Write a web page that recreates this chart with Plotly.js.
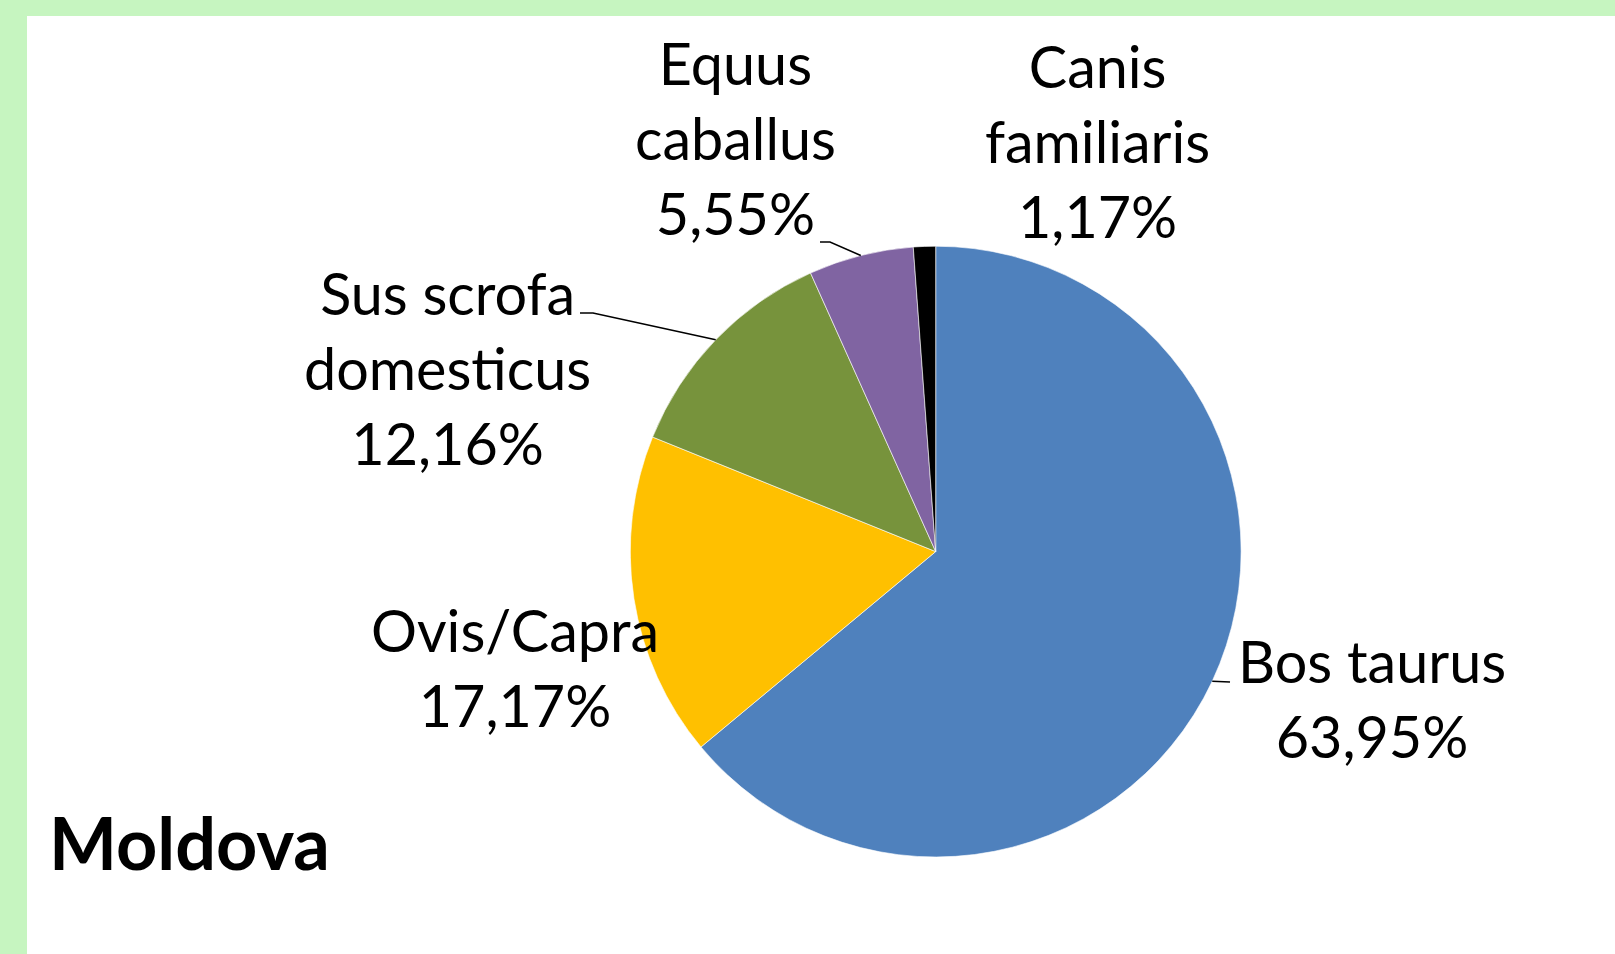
<!DOCTYPE html>
<html>
<head>
<meta charset="utf-8">
<script src="https://cdn.plot.ly/plotly-3.0.1.min.js"></script>
<style>
html,body{margin:0;padding:0;background:#ffffff;}
#chart{width:1615px;height:954px;}
</style>
</head>
<body>
<div id="chart"></div>
<script>
// ---- data ----
var categories = ["Bos taurus", "Ovis/Capra", "Sus scrofa domesticus", "Equus caballus", "Canis familiaris"];
var labelLines = ["Bos taurus", "Ovis/Capra", "Sus scrofa<br>domesticus", "Equus<br>caballus", "Canis<br>familiaris"];
var values = [63.95, 17.17, 12.16, 5.55, 1.17];
var sliceColors = ["#4F81BD", "#FFC000", "#77933C", "#8064A2", "#000000"];
var chartTitle = "Moldova";

// ---- layout geometry (pixels) ----
var W = 1615, H = 954;
var cx = 935.7, cy = 551.6, R = 305.4;
function px(x){ return x / W; }
function py(y){ return 1 - y / H; }

// label block centres and leader-line starts (pixels)
var labelPos = [
  {x: 1372, y: 698, lead: [[1230, 682]]},
  {x: 515, y: 667, lead: null},
  {x: 447, y: 367, lead: [[580, 313], [593, 313]]},
  {x: 735, y: 138, lead: [[820, 242], [830, 242]]},
  {x: 1097, y: 140, lead: null}
];

var total = values.reduce(function(a,b){return a+b;}, 0);
var annotations = [];
var shapes = [
  {type: 'rect', xref: 'paper', yref: 'paper', x0: 0, x1: 1, y0: 0, y1: 1,
   fillcolor: '#C6F5C0', line: {width: 0}, layer: 'below'},
  {type: 'rect', xref: 'paper', yref: 'paper', x0: px(27), x1: 1, y0: 0, y1: py(16),
   fillcolor: '#FFFFFF', line: {width: 0}, layer: 'below'}
];

var cum = 0;
for (var i = 0; i < values.length; i++) {
  var frac = values[i] / total;
  var mid = cum + frac / 2;
  cum += frac;
  var th = mid * 2 * Math.PI;
  var ax = cx + R * Math.sin(th), ay = cy - R * Math.cos(th);
  var pct = values[i].toFixed(2).replace('.', ',') + '%';
  annotations.push({
    xref: 'paper', yref: 'paper', x: px(labelPos[i].x), y: py(labelPos[i].y),
    xanchor: 'center', yanchor: 'middle', showarrow: false, align: 'center',
    text: labelLines[i] + '<br>' + pct,
    font: {family: 'Lato, "Open Sans", sans-serif', size: 57.5, color: '#000000'}
  });
  if (labelPos[i].lead) {
    var pts = labelPos[i].lead.concat([[ax, ay]]);
    var path = 'M' + pts.map(function(p){ return px(p[0]) + ',' + py(p[1]); }).join(' L');
    shapes.push({type: 'path', xref: 'paper', yref: 'paper', path: path,
      line: {color: '#000000', width: 1.5}});
  }
}

annotations.push({
  xref: 'paper', yref: 'paper', x: px(47), y: py(842),
  xanchor: 'left', yanchor: 'middle', showarrow: false,
  text: '<b>' + chartTitle + '</b>',
  font: {family: 'Lato, "Open Sans", sans-serif', size: 72, color: '#000000'}
});

var trace = {
  type: 'pie',
  labels: categories,
  values: values,
  sort: false,
  direction: 'clockwise',
  rotation: 0,
  textinfo: 'none',
  hoverinfo: 'label+percent',
  marker: {colors: sliceColors, line: {color: '#FFFFFF', width: 0.6}},
  domain: {x: [px(cx - R), px(cx + R)], y: [py(cy + R), py(cy - R)]},
  showlegend: false
};

var layout = {
  width: W, height: H,
  margin: {l: 0, r: 0, t: 0, b: 0, pad: 0},
  paper_bgcolor: '#FFFFFF',
  showlegend: false,
  shapes: shapes,
  annotations: annotations
};

Plotly.newPlot('chart', [trace], layout, {displayModeBar: false, staticPlot: true});
</script>
</body>
</html>
